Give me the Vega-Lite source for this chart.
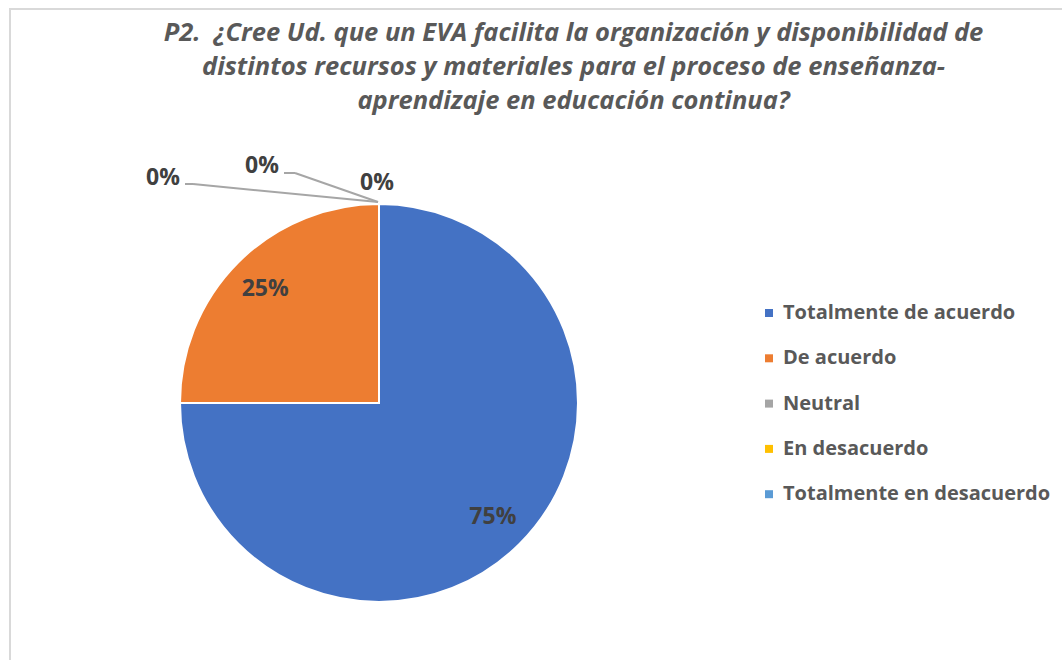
{
  "$schema": "https://vega.github.io/schema/vega-lite/v6.json",
  "width": 1053,
  "height": 652,
  "autosize": {"type": "none"},
  "padding": {"left": 10, "top": 9, "right": 0, "bottom": 0},
  "background": "white",
  "config": {"view": {"stroke": "#d9d9d9", "strokeWidth": 2}, "font": "Open Sans"},
  "title": {
    "text": ["P2.\u00a0 ¿Cree Ud. que un EVA facilita la organización y disponibilidad de", "distintos recursos y materiales para el proceso de enseñanza-", "aprendizaje en educación continua?"],
    "font": "Open Sans",
    "fontSize": 25.5,
    "fontWeight": "bold",
    "fontStyle": "italic",
    "color": "#595959",
    "anchor": "middle",
    "dx": 37,
    "lineHeight": 34,
    "orient": "top",
    "offset": -105
  },
  "data": {
    "values": [
      {"cat": "Totalmente de acuerdo", "pct": 0.75, "ord": 1},
      {"cat": "De acuerdo", "pct": 0.25, "ord": 2},
      {"cat": "Neutral", "pct": 0, "ord": 3},
      {"cat": "En desacuerdo", "pct": 0, "ord": 4},
      {"cat": "Totalmente en desacuerdo", "pct": 0, "ord": 5}
    ]
  },
  "layer": [
    {
      "mark": {"type": "arc", "outerRadius": 199, "stroke": "white", "strokeWidth": 2},
      "encoding": {
        "theta": {"field": "pct", "type": "quantitative", "stack": true},
        "order": {"field": "ord", "type": "quantitative"},
        "x": {"value": 369},
        "y": {"value": 394},
        "color": {
          "field": "cat",
          "type": "nominal",
          "sort": null,
          "scale": {
            "domain": ["Totalmente de acuerdo", "De acuerdo", "Neutral", "En desacuerdo", "Totalmente en desacuerdo"],
            "range": ["#4472C4", "#ED7D31", "#A5A5A5", "#FFC000", "#5B9BD5"]
          },
          "legend": {
            "orient": "none",
            "legendX": 749,
            "legendY": 294,
            "title": null,
            "symbolType": "square",
            "symbolSize": 64,
            "symbolStrokeWidth": 0,
            "labelFontSize": 20,
            "labelFont": "Open Sans",
            "labelFontWeight": "bold",
            "labelColor": "#595959",
            "rowPadding": 25.3,
            "labelOffset": 4,
            "labelLimit": 400
          }
        }
      }
    },
    {
      "transform": [{"filter": "datum.pct > 0"}],
      "mark": {"type": "text", "radius": 161, "fontSize": 23, "fontWeight": "bold", "color": "#404040", "align": "center", "baseline": "middle"},
      "encoding": {
        "theta": {"field": "pct", "type": "quantitative", "stack": true},
        "order": {"field": "ord", "type": "quantitative"},
        "x": {"value": 369},
        "y": {"value": 394},
        "text": {"field": "pct", "type": "quantitative", "format": ".0%"}
      }
    },
    {
      "transform": [{"filter": "datum.cat == 'Neutral'"}],
      "mark": {"type": "text", "radius": 220, "dx": -216, "dy": -5, "fontSize": 23, "fontWeight": "bold", "color": "#404040", "align": "center", "baseline": "middle"},
      "encoding": {
        "theta": {"field": "pct", "type": "quantitative", "stack": true},
        "x": {"value": 369},
        "y": {"value": 394},
        "text": {"field": "pct", "type": "quantitative", "format": ".0%"}
      }
    },
    {
      "transform": [{"filter": "datum.cat == 'En desacuerdo'"}],
      "mark": {"type": "text", "radius": 220, "dx": -117, "dy": -17, "fontSize": 23, "fontWeight": "bold", "color": "#404040", "align": "center", "baseline": "middle"},
      "encoding": {
        "theta": {"field": "pct", "type": "quantitative", "stack": true},
        "x": {"value": 369},
        "y": {"value": 394},
        "text": {"field": "pct", "type": "quantitative", "format": ".0%"}
      }
    },
    {
      "transform": [{"filter": "datum.cat == 'Totalmente en desacuerdo'"}],
      "mark": {"type": "text", "radius": 220, "dx": -2, "dy": 0, "fontSize": 23, "fontWeight": "bold", "color": "#404040", "align": "center", "baseline": "middle"},
      "encoding": {
        "theta": {"field": "pct", "type": "quantitative", "stack": true},
        "x": {"value": 369},
        "y": {"value": 394},
        "text": {"field": "pct", "type": "quantitative", "format": ".0%"}
      }
    },
    {
      "transform": [{"filter": "datum.cat == 'Neutral'"}],
      "mark": {"type": "rule", "color": "#a6a6a6", "strokeWidth": 2},
      "encoding": {"x": {"value": 175}, "y": {"value": 175}, "x2": {"value": 183}, "y2": {"value": 175}}
    },
    {
      "transform": [{"filter": "datum.cat == 'Neutral'"}],
      "mark": {"type": "rule", "color": "#a6a6a6", "strokeWidth": 2},
      "encoding": {"x": {"value": 183}, "y": {"value": 175}, "x2": {"value": 368}, "y2": {"value": 193}}
    },
    {
      "transform": [{"filter": "datum.cat == 'En desacuerdo'"}],
      "mark": {"type": "rule", "color": "#a6a6a6", "strokeWidth": 2},
      "encoding": {"x": {"value": 274}, "y": {"value": 164}, "x2": {"value": 285}, "y2": {"value": 164}}
    },
    {
      "transform": [{"filter": "datum.cat == 'En desacuerdo'"}],
      "mark": {"type": "rule", "color": "#a6a6a6", "strokeWidth": 2},
      "encoding": {"x": {"value": 285}, "y": {"value": 164}, "x2": {"value": 368}, "y2": {"value": 193}}
    }
  ]
}
